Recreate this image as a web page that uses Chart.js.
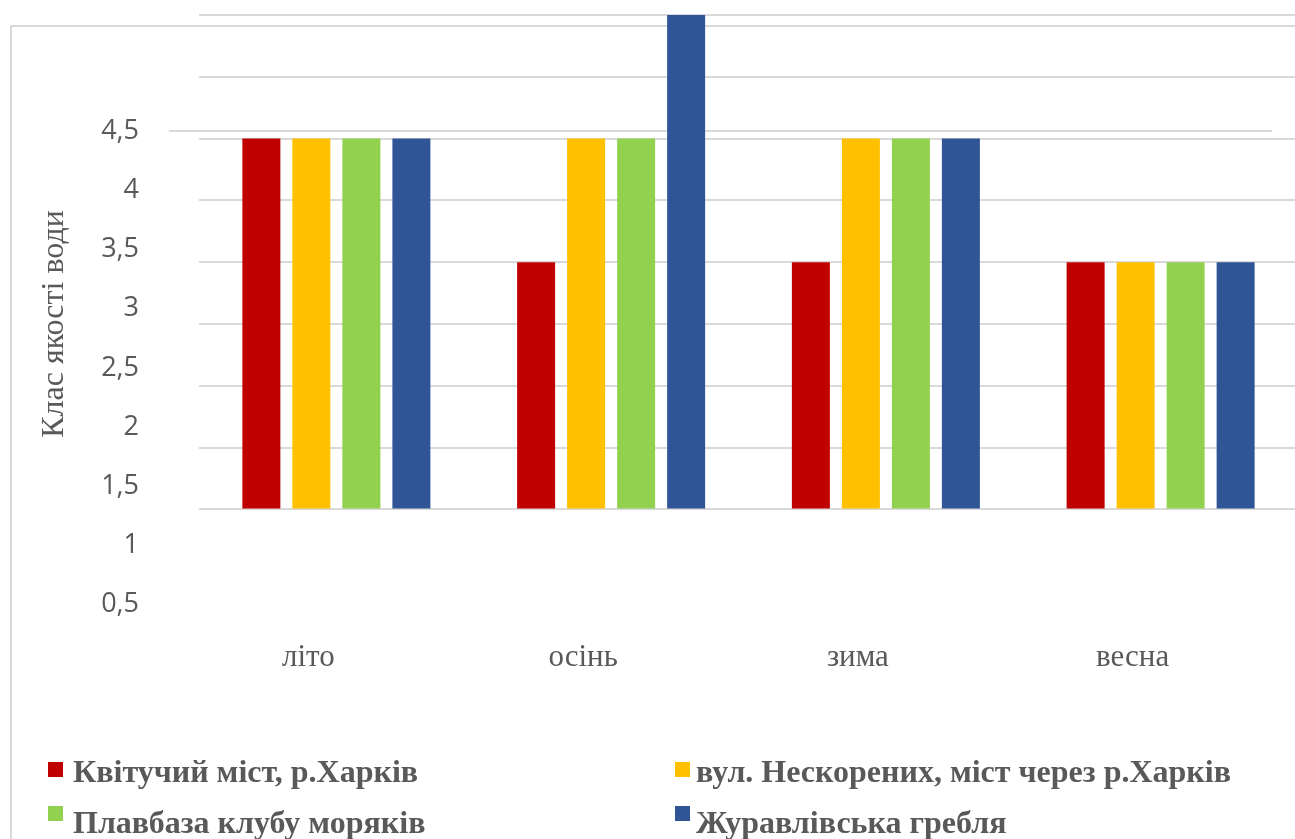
<!DOCTYPE html>
<html>
<head>
<meta charset="utf-8">
<script src="https://cdn.jsdelivr.net/npm/chart.js@4.4.1/dist/chart.umd.min.js"></script>
<style>
  html, body { margin: 0; padding: 0; background: #fff; overflow: hidden; width: 1295px; height: 839px; }
  #wrap { position: relative; width: 1295px; height: 839px; overflow: hidden; }
  #c { position: absolute; left: 0; top: 0; }
  .lg-box { position: absolute; width: 15px; height: 15px; }
  .lg-text { position: absolute; font: bold 32px "Liberation Serif", serif; color: #595959; white-space: nowrap; line-height: 32px; }
</style>
</head>
<body>
<div id="wrap">
  <canvas id="c" width="1320" height="839"></canvas>
  <div id="legend"></div>
</div>
<script>
// Seasons on the category axis
const seasons = ['літо', 'осінь', 'зима', 'весна'];

// Sampling points and their colours
const seriesNames = [
  'Квітучий міст, р.Харків',
  'вул. Нескорених, міст через р.Харків',
  'Плавбаза клубу моряків',
  'Журавлівська гребля'
];
const seriesColors = ['#C00000', '#FFC000', '#92D050', '#2F5597'];

// Water quality class per season
const kvitMist     = [4.5, 3.5, 3.5, 3.5];
const neskorenykh  = [4.5, 4.5, 4.5, 3.5];
const plavbaza     = [4.5, 4.5, 4.5, 3.5];
const zhuravlivska = [4.5, 5.5, 4.5, 3.5];
const seriesValues = [kvitMist, neskorenykh, plavbaza, zhuravlivska];

// Bars rise from this class value
const barBase = 1.5;

// Horizontal grid lines of the value axis
const gridValues = [1.5, 2, 2.5, 3, 3.5, 4, 4.5, 5, 5.5];

// Labels of the class axis
const tickValues = [0.5, 1, 1.5, 2, 2.5, 3, 3.5, 4, 4.5];
const tickLabels = ['0,5', '1', '1,5', '2', '2,5', '3', '3,5', '4', '4,5'];

const axisTitle = 'Клас якості води';

const TEXT = '#595959';
const LINE = '#D9D9D9';

// Outer frame and the reference line next to the top class label
const framePlugin = {
  id: 'frame',
  beforeDatasetsDraw(chart) {
    const ctx = chart.ctx;
    const lab = chart.scales.y2;
    const area = chart.chartArea;
    ctx.save();
    ctx.strokeStyle = LINE;
    ctx.lineWidth = 2;
    ctx.beginPath();
    ctx.moveTo(11, chart.height);
    ctx.lineTo(11, 26);
    ctx.lineTo(chart.width, 26);
    ctx.stroke();
    const py = Math.round(lab.getPixelForValue(tickValues[tickValues.length - 1]));
    ctx.beginPath();
    ctx.moveTo(lab.right - 30, py);
    ctx.lineTo(area.right - 26, py);
    ctx.stroke();
    ctx.restore();
  }
};

const chart = new Chart(document.getElementById('c'), {
  type: 'bar',
  data: {
    labels: seasons,
    datasets: seriesNames.map((name, i) => ({
      label: name,
      data: seriesValues[i],
      backgroundColor: seriesColors[i],
      base: barBase,
      yAxisID: 'y',
      categoryPercentage: 0.728,
      barPercentage: 0.76
    }))
  },
  options: {
    responsive: false,
    animation: false,
    devicePixelRatio: 1,
    layout: { padding: { top: 15, right: 22, bottom: 0, left: 0 } },
    plugins: { legend: { display: false }, tooltip: { enabled: false } },
    scales: {
      x: {
        grid: { display: false },
        border: { display: false },
        ticks: {
          color: TEXT,
          font: { family: 'Liberation Serif', size: 31 },
          padding: -2,
          labelOffset: -28,
          maxRotation: 0,
          autoSkip: false
        },
        afterFit(s) { s.height = 206; s.paddingLeft = 0; s.paddingRight = 0; }
      },
      y2: {
        type: 'linear',
        position: 'left',
        min: 0.2572,
        max: 5.4856,
        bounds: 'data',
        grid: { display: false },
        border: { display: false },
        afterBuildTicks(s) { s.ticks = tickValues.map(v => ({ value: v })); },
        ticks: {
          color: TEXT,
          font: { family: 'Open Sans', size: 27 },
          padding: 52,
          autoSkip: false,
          callback: (v, i) => tickLabels[i]
        },
        title: {
          display: true,
          text: axisTitle,
          color: TEXT,
          font: { family: 'Liberation Serif', size: 32 },
          padding: { top: 35, bottom: 0 }
        },
        afterFit(s) { s.width = 199; s.paddingTop = 0; s.paddingBottom = 0; }
      },
      y: {
        type: 'linear',
        position: 'left',
        min: 0.5,
        max: 5.5,
        bounds: 'data',
        border: { display: false },
        grid: { color: LINE, lineWidth: 2, drawTicks: false },
        afterBuildTicks(s) { s.ticks = gridValues.map(v => ({ value: v })); },
        ticks: { display: false },
        afterFit(s) { s.width = 0; s.paddingTop = 0; s.paddingBottom = 0; }
      }
    }
  },
  plugins: [framePlugin]
});

// Two-column legend under the plot
const legendCols = [{ box: 48, text: 73 }, { box: 675, text: 696 }];
const legendRows = [{ box: 762, text: 755 }, { box: 806, text: 806 }];
const legendEl = document.getElementById('legend');
chart.data.datasets.forEach((ds, i) => {
  const col = legendCols[i % 2];
  const row = legendRows[Math.floor(i / 2)];
  const box = document.createElement('div');
  box.className = 'lg-box';
  box.style.left = col.box + 'px';
  box.style.top = row.box + 'px';
  box.style.background = ds.backgroundColor;
  const txt = document.createElement('div');
  txt.className = 'lg-text';
  txt.style.left = col.text + 'px';
  txt.style.top = row.text + 'px';
  txt.textContent = ds.label;
  legendEl.appendChild(box);
  legendEl.appendChild(txt);
});
</script>
</body>
</html>
